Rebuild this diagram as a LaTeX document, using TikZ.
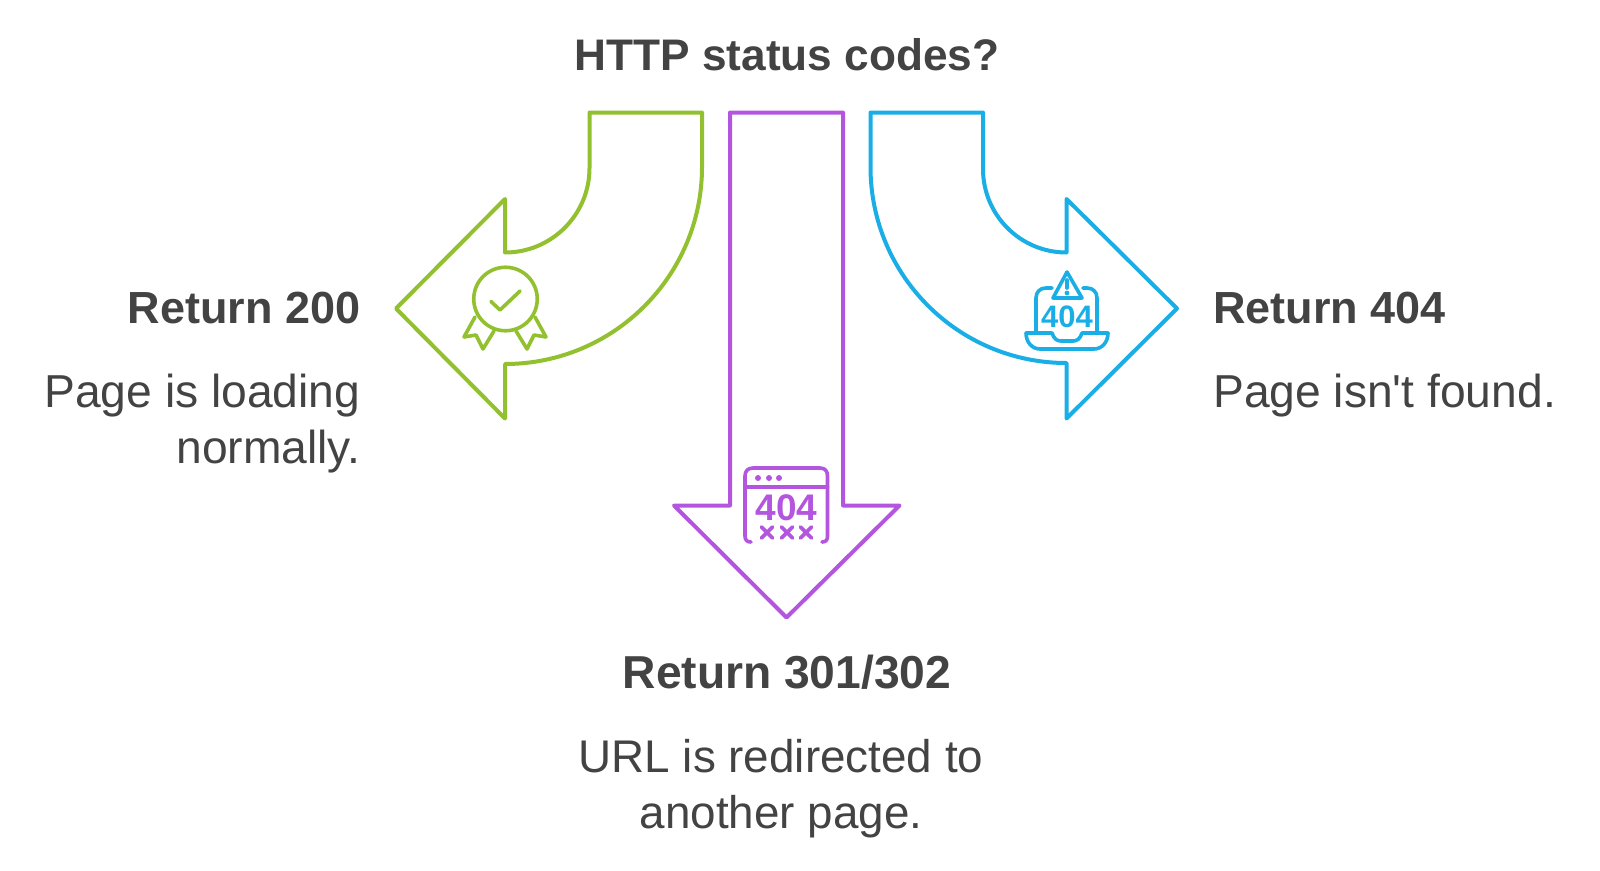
\documentclass[tikz,border=0pt]{standalone}
\usepackage{fontspec}
\setmainfont{Liberation Sans}
\newfontfamily\straightface{Liberation Sans}
\usepackage{tikz}
\definecolor{txtgrey}{HTML}{434343}
\definecolor{okgreen}{HTML}{93C02E}
\definecolor{redirpurple}{HTML}{B455DF}
\definecolor{lostblue}{HTML}{19AEE5}
\begin{document}
\begin{tikzpicture}[x=1pt,y=-1pt,line join=round,line cap=round]
    \tikzstyle{outline}=[line width=4pt]
    \tikzstyle{glyph}=[line width=3.6pt]
    \tikzstyle{heading}=[font=\fontsize{45}{56}\selectfont\bfseries,text=txtgrey,inner sep=0pt]
    \tikzstyle{blurb}=[font=\fontsize{46.2}{56}\selectfont,text=txtgrey,inner sep=0pt]
    \useasboundingbox (0,0) rectangle (1600,870);
    \node[heading,anchor=base,font=\fontsize{44.2}{56}\selectfont\bfseries] (title) at (787,70.5) {HTTP status codes?};
    % green arrow, bends to the left
    \draw[okgreen,outline] (589.5,112.5) -- (702,112.5) -- (702,167)
    arc[start angle=0,end angle=-90,radius=197pt] -- (505,418.5) -- (396,308.5) -- (505,199) -- (505,252.5)
    arc[start angle=-90,end angle=0,radius=84.5pt] -- cycle;
    % purple arrow, straight down
    \draw[redirpurple,outline] (730,112.5) -- (843,112.5) -- (843,505.5) -- (899.5,505.5) -- (786.5,617.5)
    -- (674,505.5) -- (730,505.5) -- cycle;
    % blue arrow, bends to the right
    \draw[lostblue,outline] (983,112.5) -- (870.5,112.5) -- (870.5,167)
    arc[start angle=180,end angle=270,radius=196pt] -- (1066.5,418.5) -- (1177,308.5) -- (1066.5,199) -- (1066.5,252.5)
    arc[start angle=270,end angle=180,radius=83.5pt] -- cycle;
    % rosette
    \begin{scope}[okgreen,glyph]
      \node[draw,circle,line width=3.6pt,minimum size=63.5pt,inner sep=0pt] (seal) at (505.5,299) {};
      \draw (491,301.5) -- (500,310) -- (520,291);
      \draw (475,317) -- (464,337) -- (476,335) -- (483,349) -- (494,331);
      \draw (535,317) -- (546,337) -- (534,335) -- (527,349) -- (516,331);
    \end{scope}
    % browser window
    \begin{scope}[redirpurple,glyph]
      \draw (751,542) .. controls (747,542) and (745,540) .. (745,536) -- (745,476)
      .. controls (745,471) and (748,468) .. (753,468) -- (820,468)
      .. controls (825,468) and (827.5,471) .. (827.5,476) -- (827.5,536)
      .. controls (827.5,540) and (826,542) .. (822,542);
      \draw (745,487) -- (827.5,487);
      \foreach \dotx in {758,769,779}
        \fill (\dotx,478) circle (3pt);
      \node[inner sep=0pt,font=\fontsize{37}{37}\selectfont\bfseries] (winnum) at (786.5,508) {404};
      \foreach \crossx in {767,787,806}
        \draw (\crossx-5.5,527) -- (\crossx+5.5,538) (\crossx-5.5,538) -- (\crossx+5.5,527);
    \end{scope}
    % laptop
    \begin{scope}[lostblue,glyph]
      \draw (1052,288) -- (1046,288) .. controls (1040,288) and (1036,292) .. (1036,298) -- (1036,332);
      \draw (1083,288) -- (1087,288) .. controls (1093,288) and (1097,292) .. (1097,298) -- (1097,332);
      \draw (1067,272) -- (1082,298) -- (1053,298) -- cycle;
      \draw (1067,280) -- (1067,288);
      \fill (1067,293) circle (2.4pt);
      \node[inner sep=0pt,font=\fontsize{31}{31}\selectfont\bfseries] (lapnum) at (1067,317) {404};
      \draw (1026,333) -- (1052,333) .. controls (1054,339) and (1057,341) .. (1061,341) -- (1073,341)
      .. controls (1077,341) and (1080,339) .. (1082,333) -- (1108,333)
      .. controls (1108,342) and (1102,349) .. (1094,349) -- (1040,349)
      .. controls (1032,349) and (1026,342) .. (1026,333) -- cycle;
    \end{scope}
    \node[heading,anchor=base east] (ok) at (360.5,323) {Return 200};
    \node[blurb,align=right,anchor=north east] (okinfo) at (360.5,374) {Page is loading\\normally.};
    \node[heading,anchor=base west] (lost) at (1213,323) {Return 404};
    \node[blurb,align=left,anchor=north west] (lostinfo) at (1213,374) {Page isn{\straightface\char39}t found.};
    \node[heading,anchor=base,font=\fontsize{46.2}{56}\selectfont\bfseries] (redir) at (787,688) {Return 301/302};
    \node[blurb,align=center,anchor=north,font=\fontsize{45.8}{56}\selectfont] (redirinfo) at (781,739.5) {URL is redirected to\\another page.};
\end{tikzpicture}
\end{document}
